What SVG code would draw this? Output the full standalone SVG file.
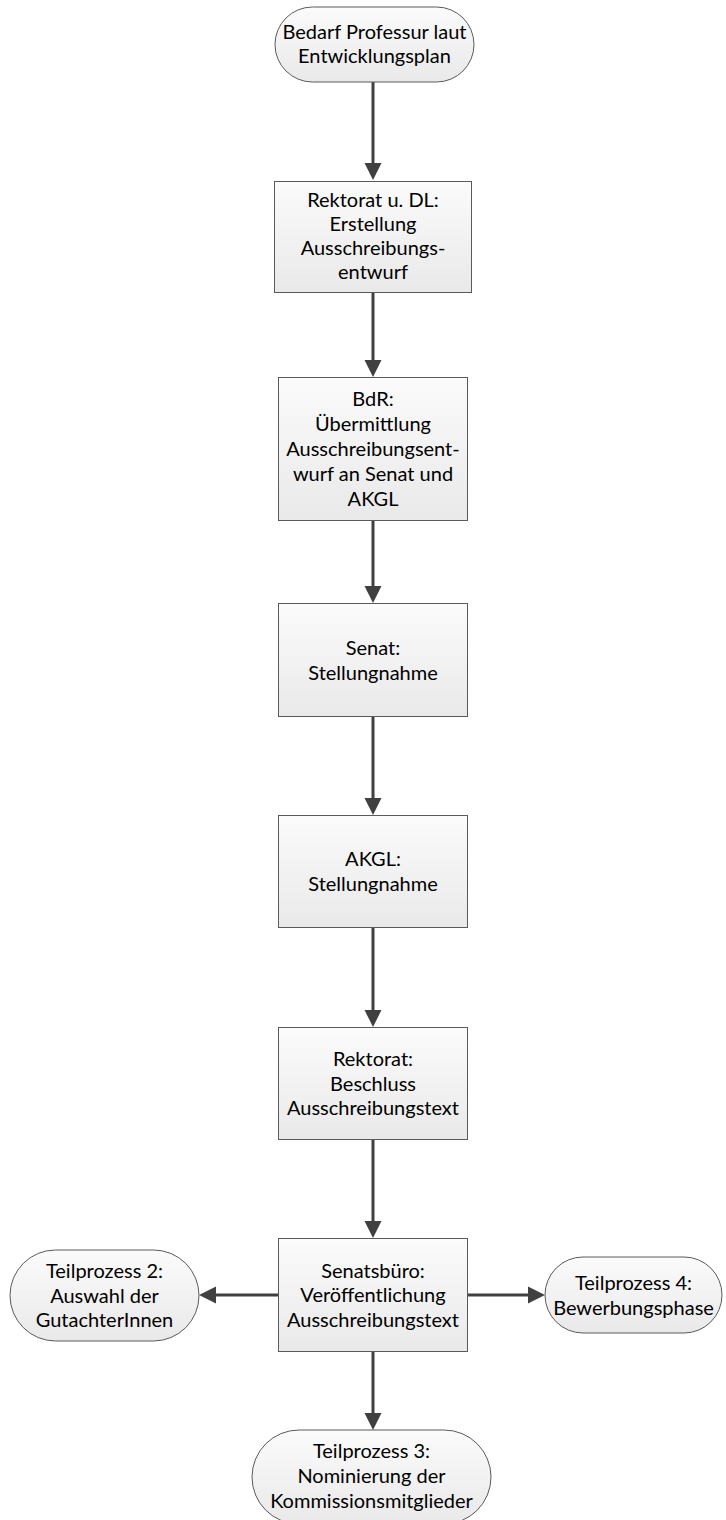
<svg xmlns="http://www.w3.org/2000/svg" width="726" height="1520" viewBox="0 0 726 1520">
<defs>
<linearGradient id="g" x1="0" y1="0" x2="0" y2="1">
<stop offset="0" stop-color="#fbfbfb"/>
<stop offset="1" stop-color="#e9e9e9"/>
</linearGradient>
<marker id="ah" markerUnits="userSpaceOnUse" markerWidth="18" markerHeight="18" refX="0" refY="8.5" orient="auto" viewBox="0 0 18 17">
<path d="M0,0 L17,8.5 L0,17 z" fill="#404040"/>
</marker>
<style>
.n{fill:url(#g);stroke:#5a5a5a;stroke-width:1}
.t{font-family:Lato,"Liberation Sans",sans-serif;font-size:20px;fill:#000;text-anchor:middle}
.c{stroke:#404040;stroke-width:3;fill:none;marker-end:url(#ah)}
</style>
</defs>
<rect width="726" height="1520" fill="#fff"/>
<g id="connectors">
<path class="c" d="M373,82 V163"/>
<path class="c" d="M373,293 V360"/>
<path class="c" d="M373,521 V586"/>
<path class="c" d="M373,717 V798"/>
<path class="c" d="M373,928 V1010"/>
<path class="c" d="M373,1140 V1221"/>
<path class="c" d="M373,1352 V1413"/>
<path class="c" d="M278,1295 H216"/>
<path class="c" d="M467,1295 H528"/>
</g>
<g id="n1"><rect class="n" x="275" y="7" width="199" height="75" rx="37.5"/>
<text class="t" x="374.5" y="39">Bedarf Professur laut</text><text class="t" x="374.5" y="63">Entwicklungsplan</text></g>
<g id="n2"><rect class="n" x="274.5" y="181.5" width="197" height="111"/>
<text class="t" x="373" y="207">Rektorat u. DL:</text><text class="t" x="373" y="231">Erstellung</text><text class="t" x="373" y="255">Ausschreibungs-</text><text class="t" x="373" y="279">entwurf</text></g>
<g id="n3"><rect class="n" x="278.5" y="377.5" width="189" height="143"/>
<text class="t" x="373" y="406">BdR:</text><text class="t" x="373" y="431">Übermittlung</text><text class="t" x="373" y="456">Ausschreibungsent-</text><text class="t" x="373" y="481">wurf an Senat und</text><text class="t" x="373" y="506">AKGL</text></g>
<g id="n4"><rect class="n" x="278.5" y="603.5" width="189" height="113"/>
<text class="t" x="373" y="655">Senat:</text><text class="t" x="373" y="679.5">Stellungnahme</text></g>
<g id="n5"><rect class="n" x="278.5" y="815.5" width="189" height="112"/>
<text class="t" x="373" y="866">AKGL:</text><text class="t" x="373" y="890.5">Stellungnahme</text></g>
<g id="n6"><rect class="n" x="278.5" y="1027.5" width="189" height="112"/>
<text class="t" x="373" y="1066">Rektorat:</text><text class="t" x="373" y="1090.5">Beschluss</text><text class="t" x="373" y="1115">Ausschreibungstext</text></g>
<g id="n7"><rect class="n" x="278.5" y="1238.5" width="189" height="113"/>
<text class="t" x="373" y="1277.5">Senatsbüro:</text><text class="t" x="373" y="1302">Veröffentlichung</text><text class="t" x="373" y="1326.5">Ausschreibungstext</text></g>
<g id="n8"><rect class="n" x="10" y="1250" width="189" height="91" rx="45.5"/>
<text class="t" x="104.5" y="1278">Teilprozess 2:</text><text class="t" x="104.5" y="1302.5">Auswahl der</text><text class="t" x="104.5" y="1327">GutachterInnen</text></g>
<g id="n9"><rect class="n" x="545" y="1257" width="177" height="76" rx="38"/>
<text class="t" x="633.5" y="1290">Teilprozess 4:</text><text class="t" x="633.5" y="1314.5">Bewerbungsphase</text></g>
<g id="n10"><rect class="n" x="252" y="1430" width="239" height="94" rx="47"/>
<text class="t" x="371.5" y="1458">Teilprozess 3:</text><text class="t" x="371.5" y="1483">Nominierung der</text><text class="t" x="371.5" y="1508">Kommissionsmitglieder</text></g>
</svg>
